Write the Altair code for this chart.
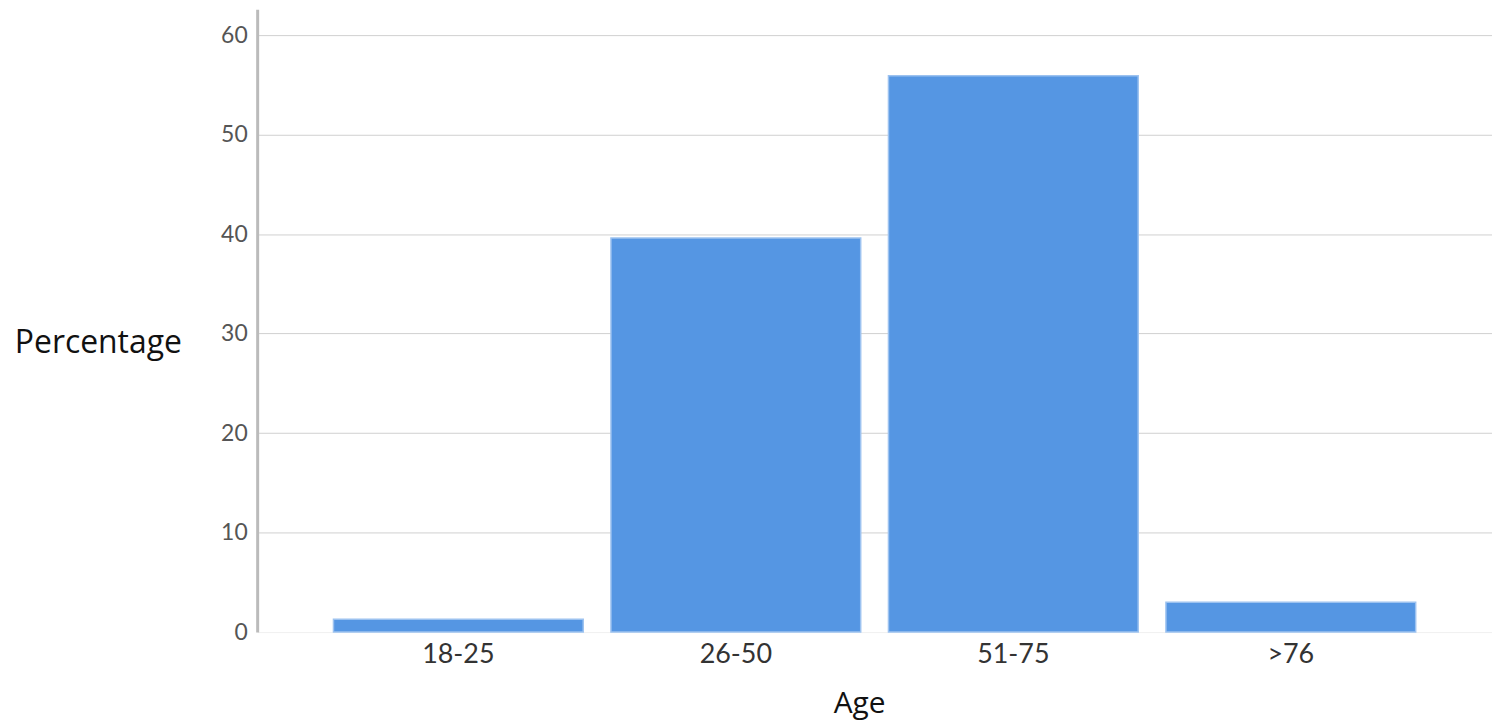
import altair as alt
import pandas as pd

ages = ["18-25", "26-50", "51-75", ">76"]
percentages = [1.3, 39.6, 55.9, 3.0]
y_ticks = [0, 10, 20, 30, 40, 50, 60]

df = pd.DataFrame({"Age": ages, "Percentage": percentages})

chart = alt.Chart(df).mark_bar(
    color="#5596E3", stroke="#9cc2f0", strokeWidth=1.5
).encode(
    x=alt.X("Age:N", sort=ages,
            scale=alt.Scale(paddingInner=0.1, paddingOuter=0.275),
            axis=alt.Axis(title="Age", labelAngle=0, labelFontSize=27, labelColor="#333333",
                          labelFont="Lato", labelPadding=10, domain=False, ticks=False,
                          titleFont="Open Sans", titleFontSize=30, titleFontWeight=500,
                          titleColor="#111111", titleX=604, titleY=57, titleBaseline="top")),
    y=alt.Y("Percentage:Q",
            scale=alt.Scale(domain=[0, 62.6], nice=False),
            axis=alt.Axis(title="Percentage", values=y_ticks, labelFontSize=23,
                          labelFont="Lato", labelColor="#555555", labelPadding=10,
                          ticks=False, domainColor="#bbbbbb", domainWidth=3,
                          gridColor={"condition": {"test": "datum.value === 0", "value": "#f0f0f0"},
                                     "value": "#d0d0d0"},
                          gridWidth=1,
                          titleAngle=0, titleAlign="right", titleBaseline="middle",
                          titleX=-76, titleY=334, titleFont="Open Sans", titleFontSize=32,
                          titleFontWeight=500, titleColor="#111111"))
).properties(
    width=1239, height=625,
    autosize=alt.AutoSizeParams(type="none"),
    padding={"left": 250, "top": 0, "right": 0, "bottom": 90}
).configure_view(stroke=None)

chart.save("out.html", embed_options={"renderer": "svg", "actions": False})
